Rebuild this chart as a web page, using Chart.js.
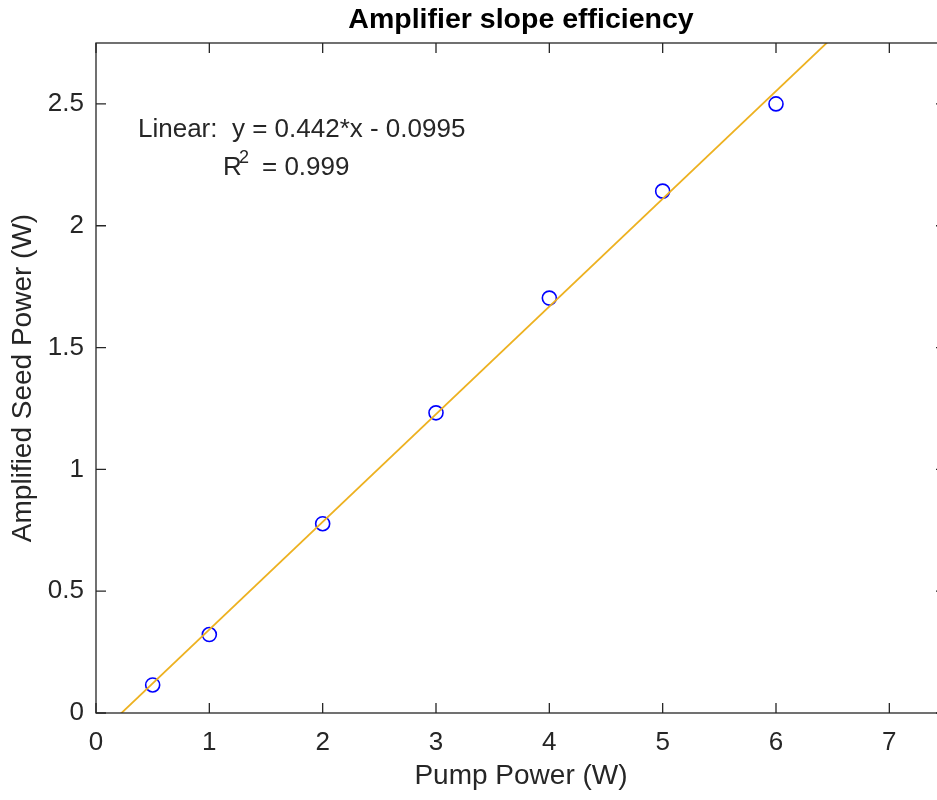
<!DOCTYPE html>
<html>
<head>
<meta charset="utf-8">
<script src="https://cdn.jsdelivr.net/npm/chart.js@4"></script>
<style>
  html, body { margin: 0; padding: 0; overflow: hidden; background: #fff; }
  canvas { display: block; }
</style>
</head>
<body>
<canvas id="slopeChart" width="960" height="800" style="width:960px;height:800px"></canvas>
<script>
// measured points
const pumpPower = [0.5, 1, 2, 3, 4, 5, 6];
const seedPower = [0.115, 0.322, 0.777, 1.232, 1.703, 2.142, 2.50];

// linear fit shown on the plot
const fitSlope = 0.442;
const fitIntercept = -0.0995;
const fitR2 = 0.999;
const fitX = [0, 7.5];

const xTicks = [0, 1, 2, 3, 4, 5, 6, 7];
const yTicks = [0, 0.5, 1, 1.5, 2, 2.5];

const axisColor = '#262626';
const fontName = '"Liberation Sans", Arial, Helvetica, sans-serif';

// box + inward ticks + title + fit text (matlab look)
const matlabAxes = {
  id: 'matlabAxes',
  afterDraw(chart) {
    const ctx = chart.ctx;
    const a = chart.chartArea;
    const xs = chart.scales.x, ys = chart.scales.y;
    const tl = 10;
    ctx.save();
    ctx.strokeStyle = axisColor;
    ctx.lineWidth = 1.3;
    ctx.strokeRect(a.left, a.top, a.right - a.left, a.bottom - a.top);
    ctx.beginPath();
    xTicks.forEach(v => {
      const px = xs.getPixelForValue(v);
      ctx.moveTo(px, a.bottom); ctx.lineTo(px, a.bottom - tl);
      ctx.moveTo(px, a.top); ctx.lineTo(px, a.top + tl);
    });
    yTicks.forEach(v => {
      const py = ys.getPixelForValue(v);
      ctx.moveTo(a.left, py); ctx.lineTo(a.left + tl, py);
      ctx.moveTo(a.right, py); ctx.lineTo(a.right - tl, py);
    });
    ctx.stroke();

    // title
    ctx.fillStyle = '#000';
    ctx.font = 'bold 28.5px ' + fontName;
    ctx.textAlign = 'center';
    ctx.textBaseline = 'alphabetic';
    ctx.fillText('Amplifier slope efficiency', (a.left + a.right) / 2, 28);

    // fit equation
    ctx.fillStyle = axisColor;
    ctx.textAlign = 'left';
    ctx.font = '26px ' + fontName;
    const sign = fitIntercept < 0 ? '-' : '+';
    ctx.fillText('Linear:  y = ' + fitSlope + '*x ' + sign + ' ' + Math.abs(fitIntercept), a.left + 42, 137);
    ctx.fillText('R', a.left + 127, 175);
    ctx.font = '18px ' + fontName;
    ctx.fillText('2', a.left + 143, 163);
    ctx.font = '26px ' + fontName;
    ctx.fillText('= ' + fitR2, a.left + 166, 175);
    ctx.restore();
  }
};

document.addEventListener('DOMContentLoaded', function() {
  const ctx = document.getElementById('slopeChart');
  new Chart(ctx, {
    type: 'scatter',
    data: {
      datasets: [{
        label: 'fit',
        data: fitX.map(x => ({ x: x, y: fitSlope * x + fitIntercept })),
        showLine: true,
        borderColor: '#EDB120',
        borderWidth: 1.8,
        pointRadius: 0,
        fill: false
      },
      {
        label: 'data',
        data: pumpPower.map((x, i) => ({ x: x, y: seedPower[i] })),
        pointStyle: 'circle',
        pointRadius: 7,
        pointBorderWidth: 1.6,
        borderColor: '#0000FF',
        backgroundColor: 'rgba(0,0,0,0)'
      }]
    },
    options: {
      responsive: false,
      animation: false,
      layout: { padding: { top: 43, right: 14, left: 0, bottom: 0 } },
      plugins: {
        legend: { display: false },
        tooltip: { enabled: false },
        title: { display: false }
      },
      scales: {
        x: {
          type: 'linear',
          min: 0,
          max: 7.5,
          afterBuildTicks: s => { s.ticks = xTicks.map(v => ({ value: v })); },
          afterFit: s => { s.height = 87; },
          grid: { display: false, drawTicks: false },
          border: { display: false },
          ticks: {
            color: axisColor,
            padding: 14,
            callback: v => String(v),
            font: { family: fontName, size: 26 }
          },
          title: {
            display: true,
            text: 'Pump Power (W)',
            color: axisColor,
            padding: { top: 0, bottom: 7 },
            font: { family: fontName, size: 28 }
          }
        },
        y: {
          type: 'linear',
          min: 0,
          max: 2.75,
          afterBuildTicks: s => { s.ticks = yTicks.map(v => ({ value: v })); },
          afterFit: s => { s.width = 96; },
          grid: { display: false, drawTicks: false },
          border: { display: false },
          ticks: {
            color: axisColor,
            padding: 12,
            callback: v => String(v),
            font: { family: fontName, size: 26 }
          },
          title: {
            display: true,
            text: 'Amplified Seed Power (W)',
            color: axisColor,
            padding: { top: 6, bottom: 0 },
            font: { family: fontName, size: 28 }
          }
        }
      }
    },
    plugins: [matlabAxes]
  });
});
</script>
</body>
</html>
